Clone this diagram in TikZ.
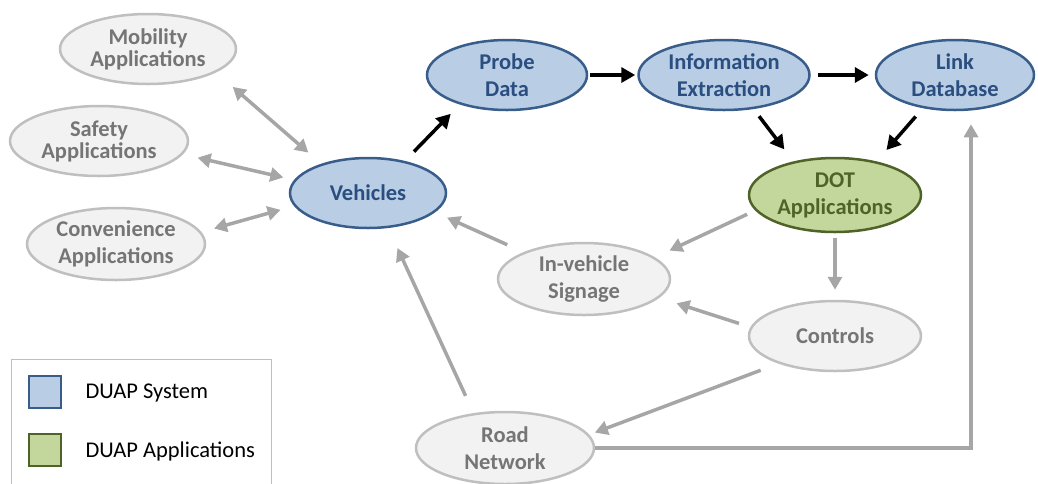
\documentclass[tikz,border=0pt]{standalone}
\usepackage{fontspec}
\setmainfont{Carlito}
\usetikzlibrary{shapes.geometric,arrows.meta}

\definecolor{sysfill}{HTML}{B9CDE5}
\definecolor{sysline}{HTML}{385D8A}
\definecolor{systext}{HTML}{2A4E7F}
\definecolor{appfill}{HTML}{C3D69B}
\definecolor{appline}{HTML}{4F6228}
\definecolor{otherfill}{HTML}{F2F2F2}
\definecolor{otherline}{HTML}{BFBFBF}
\definecolor{othertext}{HTML}{757575}
\definecolor{linkgray}{HTML}{A6A6A6}

\begin{document}
\begin{tikzpicture}[x=1pt, y=-1pt]

\def\elemwidth{172pt};
\def\elemheight{70pt};
\tikzset{duap system/.style={
    ellipse,
    draw=sysline,
    fill=sysfill,
    text=systext,
    line width=2.5pt,
    inner sep=0,
    align=center,
    font=\bfseries\fontsize{22.5}{27}\selectfont,
    minimum width=\elemwidth,
    minimum height=\elemheight
}};
\tikzset{duap app/.style={
    duap system,
    draw=appline,
    fill=appfill,
    text=appline
}};
\tikzset{other element/.style={
    duap system,
    draw=otherline,
    fill=otherfill,
    text=othertext
}};
\tikzset{data flow/.style={
    line width=3.5pt,
    -{Triangle[length=14pt,width=15pt]}
}};
\tikzset{other flow/.style={
    line width=3.5pt,
    color=linkgray,
    -{Triangle[length=13pt,width=14pt]}
}};
\tikzset{legend box/.style={
    rectangle,
    line width=2.5pt,
    minimum size=32pt
}};

\useasboundingbox (0,0) rectangle (1038,483);

\node[duap system, minimum width=156pt] (veh) at (368,193) {Vehicles};
\node[duap system, minimum width=160pt] (probe) at (507,75) {Probe\\Data};
\node[duap system, minimum width=171pt] (info) at (724,75) {Information\\Extraction};
\node[duap system, minimum width=158pt] (link) at (955,75) {Link\\Database};
\node[duap app, minimum height=74pt] (dot) at (835,195) {DOT\\Applications};

\node[other element, minimum width=176pt, font=\bfseries\fontsize{22.5}{22}\selectfont] (mob) at (148,49) {Mobility\\Applications};
\node[other element, minimum width=178pt, font=\bfseries\fontsize{22.5}{22}\selectfont] (safe) at (99,141) {Safety\\Applications};
\node[other element, minimum width=178pt, minimum height=72pt] (conv) at (116,244) {Convenience\\Applications};
\node[other element, minimum height=72pt] (sign) at (584,279) {In-vehicle\\Signage};
\node[other element] (ctrl) at (835,336) {Controls};
\node[other element, minimum width=178pt, minimum height=72pt] (road) at (505,448) {Road\\Network};

% applications around the vehicles
\foreach \src/\a/\b/\s/\t in {mob/-19/148/22/17, safe/-9/170.5/15/11, conv/8/190.5/13/14} {
    \draw[other flow, {Triangle[length=13pt,width=14pt]}-{Triangle[length=13pt,width=14pt]},
        shorten <=\s pt, shorten >=\t pt] (\src.\a) -- (veh.\b);
}

% probe data chain
\draw[data flow, shorten <=13pt, shorten >=13pt] (veh.41.6) -- (probe.212.3);
\draw[data flow, shorten <=2pt, shorten >=2pt] (probe.east) -- (info.west);
\draw[data flow, shorten <=7pt, shorten >=6pt] (info.east) -- (link.west);
\draw[data flow, shorten <=9pt, shorten >=15pt] (info.-49.6) -- (dot.141);
\draw[data flow, shorten <=11pt, shorten >=15pt] (link.226.5) -- (dot.39);

% back to the road
\draw[other flow, shorten <=9pt, shorten >=16pt] (dot.191) -- (sign.17.8);
\draw[other flow, shorten <=5pt, shorten >=10pt] (dot.south) -- (ctrl.north);
\draw[other flow, shorten <=12pt, shorten >=18pt] (ctrl.174) -- (sign.-14);
\draw[other flow, shorten <=18pt, shorten >=13pt] (sign.156.5) -- (veh.-16.4);
\draw[other flow, shorten <=19pt, shorten >=22pt] (road.132.5) -- (veh.-60.5);
\draw[other flow, shorten <=19pt, shorten >=6pt] (ctrl.206) -- (road.9.7);
\draw[other flow, shorten >=13pt] (road.east) -| ([xshift=16pt]link.south);

% legend
\draw[otherline, line width=1pt] (11,359) rectangle (271,495);
\node[legend box, draw=sysline, fill=sysfill] (keysys) at (45,392) {};
\node[legend box, draw=appline, fill=appfill] (keyapp) at (45,450) {};
\node[anchor=west, font=\fontsize{22.5}{27}\selectfont] (keysystxt) at (82,393) {DUAP System};
\node[anchor=west, font=\fontsize{22.5}{27}\selectfont] (keyapptxt) at (82,451) {DUAP Applications};
\end{tikzpicture}
\end{document}
